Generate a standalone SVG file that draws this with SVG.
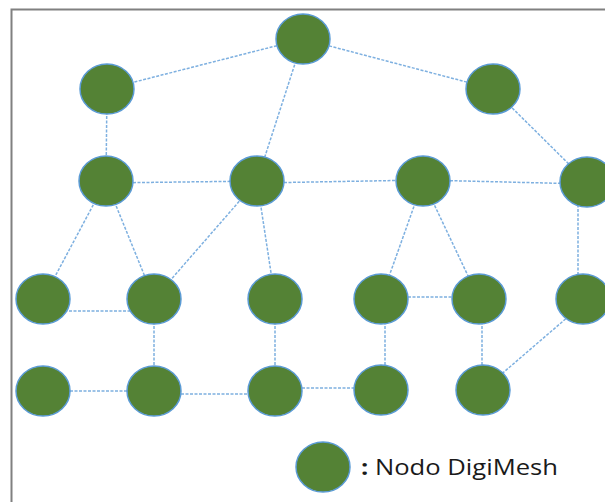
<svg xmlns="http://www.w3.org/2000/svg" width="605" height="502" viewBox="0 0 605 502">
<style>
.node{fill:#548235;stroke:#5b9bd5;stroke-width:1.5}
.edge{stroke:#7eb0e0;stroke-width:1.5;stroke-dasharray:3 1.5;fill:none}
.lbl{font-family:"Open Sans","Liberation Sans",sans-serif;font-size:21px;fill:#1a1a1a}
</style>
<rect width="605" height="502" fill="#fff"/>
<path d="M11.5,502 V9.5 H605" fill="none" stroke="#808080" stroke-width="2"/>
<g id="connectors">
<line class="edge" x1="303" y1="39" x2="107" y2="89"/>
<line class="edge" x1="303" y1="39" x2="493" y2="89"/>
<line class="edge" x1="303" y1="39" x2="257" y2="181"/>
<line class="edge" x1="107" y1="89" x2="106" y2="181"/>
<line class="edge" x1="493" y1="89" x2="587" y2="182"/>
<line class="edge" x1="106" y1="183" x2="257" y2="181"/>
<line class="edge" x1="257" y1="183" x2="423" y2="180"/>
<line class="edge" x1="423" y1="180" x2="587" y2="184"/>
<line class="edge" x1="106" y1="181" x2="43" y2="299"/>
<line class="edge" x1="106" y1="181" x2="154" y2="299"/>
<line class="edge" x1="257" y1="181" x2="154" y2="299"/>
<line class="edge" x1="257" y1="181" x2="275" y2="299"/>
<line class="edge" x1="423" y1="181" x2="381" y2="299"/>
<line class="edge" x1="423" y1="181" x2="479" y2="299"/>
<line class="edge" x1="578" y1="182" x2="578" y2="299"/>
<line class="edge" x1="60" y1="311" x2="140" y2="311"/>
<line class="edge" x1="381" y1="297" x2="479" y2="297"/>
<line class="edge" x1="154" y1="299" x2="154" y2="390"/>
<line class="edge" x1="275" y1="299" x2="275" y2="390"/>
<line class="edge" x1="385" y1="299" x2="385" y2="390"/>
<line class="edge" x1="482" y1="299" x2="482" y2="390"/>
<line class="edge" x1="576" y1="310" x2="483" y2="390"/>
<line class="edge" x1="43" y1="391" x2="154" y2="391"/>
<line class="edge" x1="154" y1="394" x2="275" y2="394"/>
<line class="edge" x1="275" y1="388" x2="381" y2="388"/>
</g>
<g id="n-top"><ellipse class="node" cx="303" cy="39" rx="27" ry="25"/></g>
<g id="n-r1a"><ellipse class="node" cx="107" cy="89" rx="27" ry="25"/></g>
<g id="n-r1b"><ellipse class="node" cx="493" cy="89" rx="27" ry="25"/></g>
<g id="n-r2a"><ellipse class="node" cx="106" cy="181" rx="27" ry="25"/></g>
<g id="n-r2b"><ellipse class="node" cx="257" cy="181" rx="27" ry="25"/></g>
<g id="n-r2c"><ellipse class="node" cx="423" cy="181" rx="27" ry="25"/></g>
<g id="n-r2d"><ellipse class="node" cx="587" cy="182" rx="27" ry="25"/></g>
<g id="n-r3a"><ellipse class="node" cx="43" cy="299" rx="27" ry="25"/></g>
<g id="n-r3b"><ellipse class="node" cx="154" cy="299" rx="27" ry="25"/></g>
<g id="n-r3c"><ellipse class="node" cx="275" cy="299" rx="27" ry="25"/></g>
<g id="n-r3d"><ellipse class="node" cx="381" cy="299" rx="27" ry="25"/></g>
<g id="n-r3e"><ellipse class="node" cx="479" cy="299" rx="27" ry="25"/></g>
<g id="n-r3f"><ellipse class="node" cx="583" cy="299" rx="27" ry="25"/></g>
<g id="n-r4a"><ellipse class="node" cx="43" cy="391" rx="27" ry="25"/></g>
<g id="n-r4b"><ellipse class="node" cx="154" cy="391" rx="27" ry="25"/></g>
<g id="n-r4c"><ellipse class="node" cx="275" cy="391" rx="27" ry="25"/></g>
<g id="n-r4d"><ellipse class="node" cx="381" cy="390" rx="27" ry="25"/></g>
<g id="n-r4e"><ellipse class="node" cx="483" cy="390" rx="27" ry="25"/></g>
<g id="legend">
<ellipse class="node" cx="323" cy="467" rx="27" ry="25"/>
<text class="lbl" x="361" y="475" textLength="197" lengthAdjust="spacingAndGlyphs"><tspan font-weight="bold">:</tspan> Nodo DigiMesh</text>
</g>
</svg>
